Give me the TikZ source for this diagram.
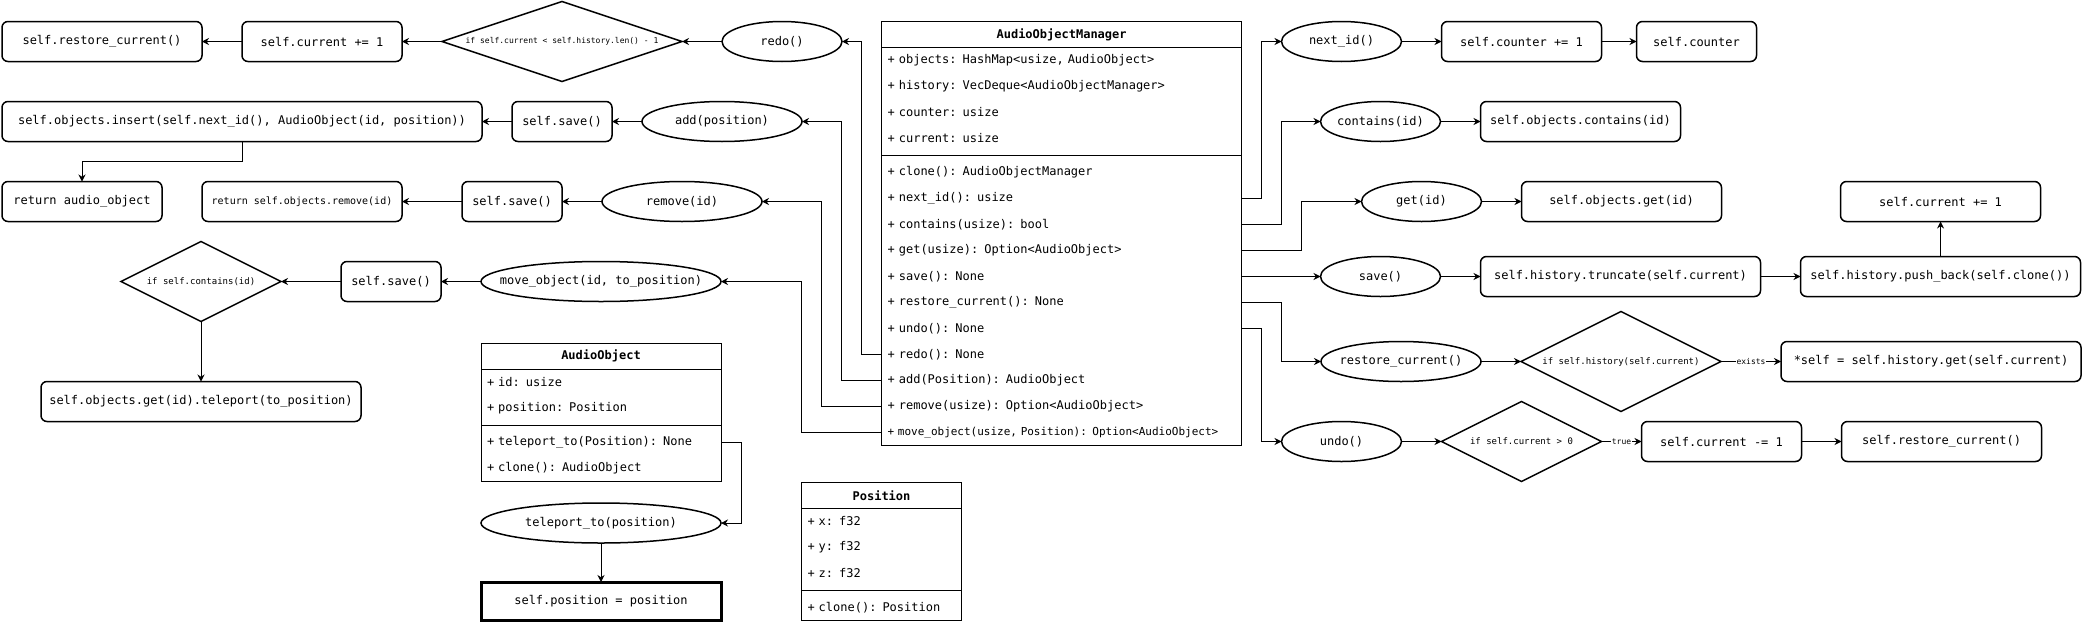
\documentclass[tikz,border=0pt]{standalone}
\usepackage{fontspec}
\setmainfont{DejaVu Sans Mono}
\usepackage{tikz}
\usetikzlibrary{positioning,arrows.meta,shapes.geometric,fit}

\begin{document}
\begin{tikzpicture}[
  x=1pt, y=-1pt,
  proc/.style={draw, line width=1.5pt, rounded corners=6pt, minimum width=#1, minimum height=40pt, inner sep=4pt, outer sep=0pt, font=\fontsize{12}{14}\selectfont},
  call/.style={ellipse, draw, line width=1.5pt, minimum width=#1, minimum height=40pt, inner sep=3pt, outer sep=0pt, font=\fontsize{12}{14}\selectfont,
    execute at begin node={\hbox to 0pt\bgroup\hss}, execute at end node={\hss\egroup}},
  cond/.style={diamond, draw, line width=1.5pt, inner sep=0pt, outer sep=0pt, font=\fontsize{9}{11}\selectfont},
  uhead/.style={draw, line width=0.8pt, minimum width=#1, minimum height=26pt, inner sep=0pt, outer sep=0pt, font=\fontsize{12}{14}\selectfont\bfseries},
  urow/.style={text width=#1, minimum height=26pt, inner xsep=6pt, inner ysep=0pt, outer sep=0pt, align=left, font=\fontsize{12}{14}\selectfont},
  ubox/.style={draw, line width=0.8pt, inner sep=0pt},
  arr/.style={-{Stealth[length=7pt,width=7pt]}, line width=0.9pt},
  lbl/.style={fill=white, inner sep=1pt, font=\fontsize{8}{9}\selectfont}
]
  \useasboundingbox (0,0) rectangle (2082,624);

  % AudioObjectManager class
  \node[uhead=360pt] (mgr) at (1061.6,34.5) {AudioObjectManager};
  \node[urow=348pt, below=0pt of mgr] (mgr-a1) {+ objects: HashMap<usize, AudioObject>};
  \node[urow=348pt, below=0pt of mgr-a1] (mgr-a2) {+ history: VecDeque<AudioObjectManager>};
  \node[urow=348pt, below=0pt of mgr-a2] (mgr-a3) {+ counter: usize};
  \node[urow=348pt, below=0pt of mgr-a3] (mgr-a4) {+ current: usize};
  \node[urow=348pt, below=8pt of mgr-a4] (mgr-m1) {+ clone(): AudioObjectManager};
  \node[urow=348pt, below=0pt of mgr-m1] (mgr-m2) {+ next\_id(): usize};
  \node[urow=348pt, below=0pt of mgr-m2] (mgr-m3) {+ contains(usize): bool};
  \node[urow=348pt, below=0pt of mgr-m3] (mgr-m4) {+ get(usize): Option<AudioObject>};
  \node[urow=348pt, below=0pt of mgr-m4] (mgr-m5) {+ save(): None};
  \node[urow=348pt, below=0pt of mgr-m5] (mgr-m6) {+ restore\_current(): None};
  \node[urow=348pt, below=0pt of mgr-m6] (mgr-m7) {+ undo(): None};
  \node[urow=348pt, below=0pt of mgr-m7] (mgr-m8) {+ redo(): None};
  \node[urow=348pt, below=0pt of mgr-m8] (mgr-m9) {+ add(Position): AudioObject};
  \node[urow=348pt, below=0pt of mgr-m9] (mgr-m10) {+ remove(usize): Option<AudioObject>};
  \node[urow=348pt, below=0pt of mgr-m10, font=\fontsize{11}{13}\selectfont] (mgr-m11) {+ move\_object(usize, Position): Option<AudioObject>};
  \node[ubox, fit=(mgr)(mgr-m11)] {};
  \draw[line width=0.8pt] (mgr-a4.south west) ++(0,4) -- ++(360,0);

  % AudioObject class
  \node[uhead=240pt] (ao) at (601,356) {AudioObject};
  \node[urow=228pt, below=0pt of ao] (ao-a1) {+ id: usize};
  \node[urow=228pt, below=0pt of ao-a1] (ao-a2) {+ position: Position};
  \node[urow=228pt, below=8pt of ao-a2] (ao-m1) {+ teleport\_to(Position): None};
  \node[urow=228pt, below=0pt of ao-m1] (ao-m2) {+ clone(): AudioObject};
  \node[ubox, fit=(ao)(ao-m2)] {};
  \draw[line width=0.8pt] (ao-a2.south west) ++(0,4) -- ++(240,0);

  % Position class
  \node[uhead=160pt] (pos) at (881.5,495.5) {Position};
  \node[urow=148pt, below=0pt of pos] (pos-x) {+ x: f32};
  \node[urow=148pt, below=0pt of pos-x] (pos-y) {+ y: f32};
  \node[urow=148pt, below=0pt of pos-y] (pos-z) {+ z: f32};
  \node[urow=148pt, below=8pt of pos-z] (pos-m1) {+ clone(): Position};
  \node[ubox, fit=(pos)(pos-m1)] {};
  \draw[line width=0.8pt] (pos-z.south west) ++(0,4) -- ++(160,0);

  % redo
  \node[call=120pt] (redo) at (782,41.5) {redo()};
  \node[cond, minimum width=240pt, minimum height=80pt, shape aspect=3, font=\fontsize{8}{9}\selectfont, left=40pt of redo] (redo-if) {if self.current < self.history.len() - 1};
  \node[proc=160pt, left=40pt of redo-if] (redo-inc) {self.current += 1};
  \node[proc=200pt, left=40pt of redo-inc] (redo-rest) {self.restore\_current()};

  % add
  \node[call=160pt] (add) at (722,121.5) {add(position)};
  \node[proc=100pt, left=30pt of add] (add-save) {self.save()};
  \node[proc=480pt, left=30pt of add-save] (add-ins) {self.objects.insert(self.next\_id(), AudioObject(id, position))};
  \node[proc=160pt, below=40pt of add-ins.south west, anchor=north west] (add-ret) {return audio\_object};

  % remove
  \node[call=160pt] (rm) at (682,201.5) {remove(id)};
  \node[proc=100pt, left=40pt of rm] (rm-save) {self.save()};
  \node[proc=200pt, left=60pt of rm-save, font=\fontsize{10}{12}\selectfont] (rm-ret) {return self.objects.remove(id)};

  % move_object
  \node[call=240pt] (mv) at (601,281.5) {move\_object(id, to\_position)};
  \node[proc=100pt, left=40pt of mv] (mv-save) {self.save()};
  \node[cond, minimum width=160pt, minimum height=80pt, shape aspect=2, left=60pt of mv-save] (mv-if) {if self.contains(id)};
  \node[proc=320pt, below=60pt of mv-if] (mv-tp) {self.objects.get(id).teleport(to\_position)};

  % teleport_to
  \node[call=240pt, below=22pt of ao-m2] (tp) {teleport\_to(position)};
  \node[draw, line width=3pt, minimum width=240pt, minimum height=38pt, outer sep=0pt, font=\fontsize{12}{14}\selectfont, below=39pt of tp] (tp-set) {self.position = position};

  % next_id
  \node[call=120pt] (nid) at (1341.5,41.5) {next\_id()};
  \node[proc=160pt, right=40pt of nid] (nid-inc) {self.counter += 1};
  \node[proc=120pt, right=35pt of nid-inc] (nid-ret) {self.counter};

  % contains
  \node[call=120pt] (has) at (1380.5,121.5) {contains(id)};
  \node[proc=200pt, right=40pt of has] (has-ret) {self.objects.contains(id)};

  % get
  \node[call=120pt] (get) at (1421.5,201.5) {get(id)};
  \node[proc=200pt, right=40pt of get] (get-ret) {self.objects.get(id)};

  % save
  \node[call=120pt] (sv) at (1380.5,276.5) {save()};
  \node[proc=280pt, right=40pt of sv] (sv-trunc) {self.history.truncate(self.current)};
  \node[proc=280pt, right=40pt of sv-trunc] (sv-push) {self.history.push\_back(self.clone())};
  \node[proc=200pt, above=35pt of sv-push] (sv-inc) {self.current += 1};

  % restore_current
  \node[call=160pt] (rc) at (1401,361.5) {restore\_current()};
  \node[cond, minimum width=200pt, minimum height=100pt, shape aspect=2, right=40pt of rc] (rc-if) {if self.history(self.current)};
  \node[proc=300pt, right=60pt of rc-if] (rc-set) {*self = self.history.get(self.current)};

  % undo
  \node[call=120pt] (undo) at (1341.5,441.5) {undo()};
  \node[cond, minimum width=160pt, minimum height=80pt, shape aspect=2, right=40pt of undo] (undo-if) {if self.current > 0};
  \node[proc=160pt, right=40pt of undo-if] (undo-dec) {self.current -= 1};
  \node[proc=200pt, right=40pt of undo-dec] (undo-rest) {self.restore\_current()};

  % class rows to methods
  \draw[arr] (mgr-m8.west) -- ++(-20,0) |- (redo);
  \draw[arr] (mgr-m9.west) -- ++(-40,0) |- (add);
  \draw[arr] (mgr-m10.west) -- ++(-60,0) |- (rm);
  \draw[arr] (mgr-m11.west) -- ++(-80,0) |- (mv);
  \draw[arr] (mgr-m2.east) -- ++(20,0) |- (nid);
  \draw[arr] (mgr-m3.east) -- ++(40,0) |- (has);
  \draw[arr] (mgr-m4.east) -- ++(60,0) |- (get);
  \draw[arr] (mgr-m5.east) -- (sv);
  \draw[arr] (mgr-m6.east) -- ++(40,0) |- (rc);
  \draw[arr] (mgr-m7.east) -- ++(20,0) |- (undo);
  \draw[arr] (ao-m1.east) -- ++(20,0) |- (tp);

  % method bodies
  \draw[arr] (redo) -- (redo-if);
  \draw[arr] (redo-if) -- (redo-inc);
  \draw[arr] (redo-inc) -- (redo-rest);
  \draw[arr] (add) -- (add-save);
  \draw[arr] (add-save) -- (add-ins);
  \draw[arr] (add-ins.south) -- ++(0,20) -| (add-ret);
  \draw[arr] (rm) -- (rm-save);
  \draw[arr] (rm-save) -- (rm-ret);
  \draw[arr] (mv) -- (mv-save);
  \draw[arr] (mv-save) -- (mv-if);
  \draw[arr] (mv-if) -- (mv-tp);
  \draw[arr] (tp) -- (tp-set);
  \draw[arr] (nid) -- (nid-inc);
  \draw[arr] (nid-inc) -- (nid-ret);
  \draw[arr] (has) -- (has-ret);
  \draw[arr] (get) -- (get-ret);
  \draw[arr] (sv) -- (sv-trunc);
  \draw[arr] (sv-trunc) -- (sv-push);
  \draw[arr] (sv-push) -- (sv-inc);
  \draw[arr] (rc) -- (rc-if);
  \draw[arr] (rc-if) -- node[lbl] {exists} (rc-set);
  \draw[arr] (undo) -- (undo-if);
  \draw[arr] (undo-if) -- node[lbl] {true} (undo-dec);
  \draw[arr] (undo-dec) -- (undo-rest);
\end{tikzpicture}
\end{document}
